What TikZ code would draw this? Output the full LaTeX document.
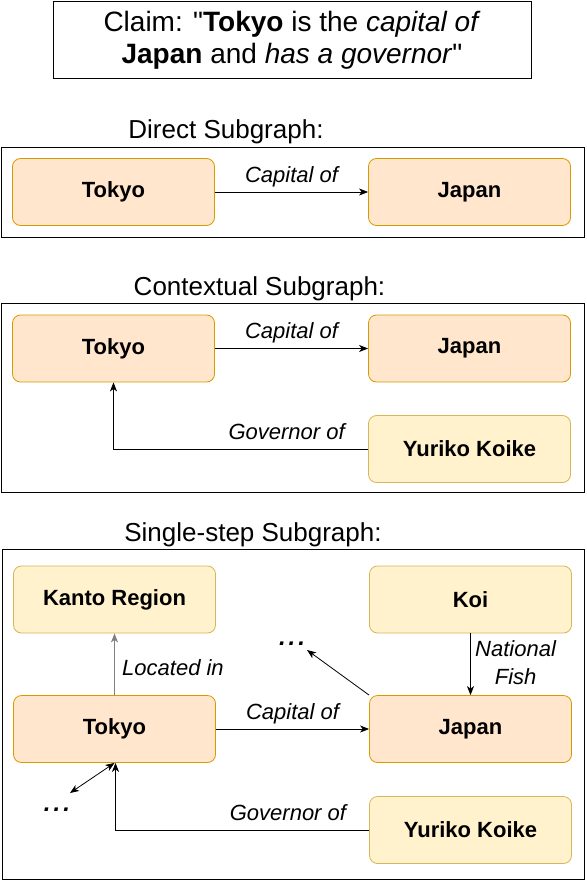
\documentclass[tikz,border=0pt]{standalone}
\usepackage{fontspec}
\setmainfont{Liberation Sans}[Ligatures=TeXOff]
\usetikzlibrary{arrows.meta}
\definecolor{orangefill}{HTML}{FFE6CC}
\definecolor{orangeline}{HTML}{D79B00}
\definecolor{yellowfill}{HTML}{FFF2CC}
\definecolor{yellowline}{HTML}{D6B656}
\newcommand{\moredots}{.\hspace{3pt}.\hspace{3pt}.}
\begin{document}
\begin{tikzpicture}[x=1pt, y=-1pt,
    >={Stealth[length=9pt, width=7pt, inset=2.5pt]},
    entity/.style={draw=orangeline, fill=orangefill, rounded corners=8pt, line width=0.8pt,
      minimum width=202pt, minimum height=67pt, font=\fontsize{22}{26}\selectfont\bfseries},
    context/.style={entity, draw=yellowline, fill=yellowfill},
    frame/.style={draw, line width=1pt},
    rel/.style={font=\fontsize{22}{28}\selectfont\itshape, anchor=base},
    dots/.style={font=\fontsize{24}{30}\selectfont\bfseries\itshape, anchor=base},
    heading/.style={font=\fontsize{26}{30}\selectfont, anchor=base},
    link/.style={->, line width=0.8pt}]
  \useasboundingbox (0,0) rectangle (586,880);

  % claim
  \node [draw, line width=1pt, minimum width=478pt, minimum height=77pt, align=center,
    font=\fontsize{28}{32}\selectfont] (claim) at (292,40.5)
    {Claim: "\textbf{Tokyo} is the \textit{capital of}\\\textbf{Japan} and \textit{has a governor}"};

  % direct subgraph
  \node [heading] (direct) at (226,138.5) {Direct Subgraph:};
  \draw [frame] (1,147) rectangle (584,237);
  \node [entity] (tokyoA) at (113.5,192) {Tokyo};
  \node [entity] (japanA) at (469.5,192) {Japan};
  \draw [link] (tokyoA) -- (japanA) node [rel, midway, yshift=10pt] {Capital of};

  % contextual subgraph
  \node [heading] (contextual) at (259.5,295) {Contextual Subgraph:};
  \draw [frame] (1,303.5) rectangle (584,492.5);
  \node [entity] (tokyoB) at (113.5,348.5) {Tokyo};
  \node [entity] (japanB) at (469.5,348.5) {Japan};
  \node [context] (koikeB) at (469.5,449) {Yuriko Koike};
  \draw [link] (tokyoB) -- (japanB) node [rel, midway, yshift=10pt] {Capital of};
  \draw [link] (koikeB.west) -| (tokyoB.south) node [rel, pos=0.16, yshift=10pt] {Governor of};

  % single-step subgraph
  \node [heading] (single) at (253,541) {Single-step Subgraph:};
  \draw [frame] (2.5,549.5) rectangle (584,879);
  \node [context] (kanto) at (114.5,599.5) {Kanto Region};
  \node [context] (koi) at (470.5,599.5) {Koi};
  \node [entity] (tokyoC) at (114.5,729) {Tokyo};
  \node [entity] (japanC) at (470.5,729) {Japan};
  \node [context] (koikeC) at (470.5,830) {Yuriko Koike};
  \coordinate (moreJ) at (307,650);
  \coordinate (moreT) at (70,793);
  \node [dots] (dotsJ) at (292,645) {\moredots};
  \node [dots] (dotsT) at (57,811) {\moredots};
  \draw [link, draw=gray] (tokyoC) -- (kanto) node [rel, midway, right=4pt, yshift=-3pt] {Located in};
  \draw [link] (koi) -- (japanC) node [rel, midway, right=1pt, align=center, yshift=2pt] {National\\Fish};
  \draw [link] (japanC.north west) -- (moreJ);
  \draw [link] (tokyoC) -- (japanC) node [rel, midway, yshift=10pt] {Capital of};
  \draw [link, <->] (tokyoC.south) -- (moreT);
  \draw [link] (koikeC.west) -| ([xshift=1pt]tokyoC.south) node [rel, pos=0.16, yshift=10pt] {Governor of};
\end{tikzpicture}
\end{document}
